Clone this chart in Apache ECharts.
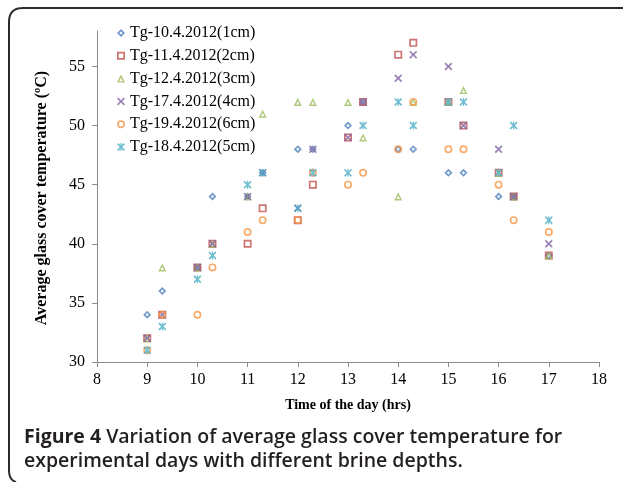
<!DOCTYPE html>
<html>
<head>
<meta charset="utf-8">
<script src="https://cdn.jsdelivr.net/npm/echarts@6/dist/echarts.min.js"></script>
<style>
  html, body { margin: 0; padding: 0; background: #fff; }
  #chart { width: 627px; height: 482px; }
</style>
</head>
<body>
<div id="chart"></div>
<script>
// Time of day (hrs); the .3 values are the half-hour readings
var hours = [9, 9.3, 10, 10.3, 11, 11.3, 12, 12.3, 13, 13.3, 14, 14.3, 15, 15.3, 16, 16.3, 17];

// Average glass cover temperature (ºC) per experimental day
var tg1cm = [34, 36, 38, 44, 44, 46, 48, 48, 50, 52, 48, 48, 46, 46, 44, 44, 39];
var tg2cm = [32, 34, 38, 40, 40, 43, 42, 45, 49, 52, 56, 57, 52, 50, 46, 44, 39];
var tg3cm = [32, 38, 38, 40, 44, 51, 52, 52, 52, 49, 44, 52, 52, 53, 46, 44, 39];
var tg4cm = [32, 34, 38, 40, 44, 46, 43, 48, 49, 52, 54, 56, 55, 50, 48, 44, 40];
var tg6cm = [31, 34, 34, 38, 41, 42, 42, 46, 45, 46, 48, 52, 48, 48, 45, 42, 41];
var tg5cm = [31, 33, 37, 39, 45, 46, 43, 46, 46, 50, 52, 50, 52, 52, 46, 50, 42];

var seriesNames = [
  'Tg-10.4.2012(1cm)', 'Tg-11.4.2012(2cm)', 'Tg-12.4.2012(3cm)',
  'Tg-17.4.2012(4cm)', 'Tg-19.4.2012(6cm)', 'Tg-18.4.2012(5cm)'
];

var yTicks = [30, 35, 40, 45, 50, 55];
var xTicks = [8, 9, 10, 11, 12, 13, 14, 15, 16, 17, 18];

// Hollow marker outlines: outer contour clockwise, inner contour counter-clockwise
var SYM = {
  diamond: 'path://M5,0 L10,5 L5,10 L0,5 Z M5,3 L3,5 L5,7 L7,5 Z',
  square: 'path://M0,0 L10,0 L10,10 L0,10 Z M2.1,2.1 L2.1,7.9 L7.9,7.9 L7.9,2.1 Z',
  triangle: 'path://M5,0 L10,10 L0,10 Z M5,4 L2.8,8.2 L7.2,8.2 Z',
  cross: 'path://M0,1.5 L1.5,0 L5,3.5 L8.5,0 L10,1.5 L6.5,5 L10,8.5 L8.5,10 L5,6.5 L1.5,10 L0,8.5 L3.5,5 Z',
  circle: 'path://M5,0 A5,5 0 1,1 5,10 A5,5 0 1,1 5,0 Z M5,2.1 A2.9,2.9 0 1,0 5,7.9 A2.9,2.9 0 1,0 5,2.1 Z',
  star: 'path://M0,1.5 L1.5,0 L5,3.5 L8.5,0 L10,1.5 L6.5,5 L10,8.5 L8.5,10 L5,6.5 L1.5,10 L0,8.5 L3.5,5 Z M4.3,0 L5.7,0 L5.7,10 L4.3,10 Z'
};

function pairs(ys) {
  return hours.map(function (h, i) { return [h, ys[i]]; });
}

// Frame around the figure: top edge, rounded top-left corner, left edge, rounded bottom-left corner
function quad(p0, c, p1, n) {
  var out = [];
  for (var i = 1; i <= n; i++) {
    var t = i / n, u = 1 - t;
    out.push([u * u * p0[0] + 2 * u * t * c[0] + t * t * p1[0],
              u * u * p0[1] + 2 * u * t * c[1] + t * t * p1[1]]);
  }
  return out;
}
var framePts = [[623, 8], [23, 8]]
  .concat(quad([23, 8], [9, 8], [9, 22], 10))
  .concat([[9, 470]])
  .concat(quad([9, 470], [9, 480], [16, 482], 8));

var values = [tg1cm, tg2cm, tg3cm, tg4cm, tg6cm, tg5cm];
var symbols = [SYM.diamond, SYM.square, SYM.triangle, SYM.cross, SYM.circle, SYM.star];
var colors = ['#4F81BD', '#C0504D', '#9BBB59', '#8064A2', '#F79646', '#4BACC6'];

var serif = '"Liberation Serif", "Times New Roman", serif';
var sans = '"Open Sans", "Noto Sans", sans-serif';

var series = seriesNames.map(function (name, k) {
  return {
    name: name,
    type: 'scatter',
    data: pairs(values[k]),
    symbol: symbols[k],
    symbolSize: 8,
    itemStyle: { color: colors[k] },
    emphasis: { disabled: true }
  };
});

var chart = echarts.init(document.getElementById('chart'), null, { renderer: 'canvas' });

chart.setOption({
  animation: false,
  backgroundColor: '#ffffff',
  grid: { left: 97, right: 28, top: 31, bottom: 120, containLabel: false },
  legend: {
    orient: 'vertical',
    left: 117,
    top: 25,
    padding: 0,
    itemWidth: 8,
    itemHeight: 8,
    itemGap: 6.8,
    itemTextGap: 3,
    textStyle: { fontFamily: serif, fontSize: 16, color: '#000', lineHeight: 16 },
    data: seriesNames
  },
  xAxis: {
    type: 'value',
    min: 8,
    max: 18,
    interval: 1,
    axisLine: { lineStyle: { color: '#8c8c8c', width: 1 } },
    axisTick: { inside: false, length: 5, lineStyle: { color: '#8c8c8c' } },
    axisLabel: {
      fontFamily: serif, fontSize: 16, color: '#000', margin: 10,
      customValues: xTicks
    },
    splitLine: { show: false },
    name: 'Time of the day (hrs)',
    nameLocation: 'middle',
    nameGap: 36,
    nameTextStyle: { fontFamily: serif, fontSize: 14, fontWeight: 'bold', color: '#000' }
  },
  yAxis: {
    type: 'value',
    min: 30,
    max: 58,
    interval: 5,
    axisLine: { show: true, lineStyle: { color: '#8c8c8c', width: 1 } },
    axisTick: { show: true, inside: false, length: 5, lineStyle: { color: '#8c8c8c' }, customValues: yTicks },
    axisLabel: {
      fontFamily: serif, fontSize: 16, color: '#000', margin: 12,
      customValues: yTicks
    },
    splitLine: { show: false }
  },
  graphic: [
    {
      type: 'polyline',
      shape: { points: framePts },
      style: { fill: null, stroke: '#2b2b2b', lineWidth: 2 },
      silent: true
    },
    {
      type: 'text',
      x: 42,
      y: 198,
      rotation: Math.PI / 2,
      style: {
        text: 'Average glass cover temperature (ºC)',
        fontFamily: serif, fontSize: 16, fontWeight: 'bold', fill: '#000',
        align: 'center', verticalAlign: 'middle'
      },
      silent: true
    },
    {
      type: 'text',
      x: 24,
      y: 437,
      style: {
        text: '{b|Figure 4} Variation of average glass cover temperature for',
        fontFamily: sans,
        fontSize: 19.5, fontWeight: 600, fill: '#231f20',
        verticalAlign: 'middle',
        rich: {
          b: { fontFamily: sans, fontSize: 19.5, fontWeight: 'bold', fill: '#231f20' }
        }
      },
      silent: true
    },
    {
      type: 'text',
      x: 24,
      y: 461,
      style: {
        text: 'experimental days with different brine depths.',
        fontFamily: sans,
        fontSize: 19.5, fontWeight: 600, fill: '#231f20',
        verticalAlign: 'middle'
      },
      silent: true
    }
  ],
  series: series
});
</script>
</body>
</html>
